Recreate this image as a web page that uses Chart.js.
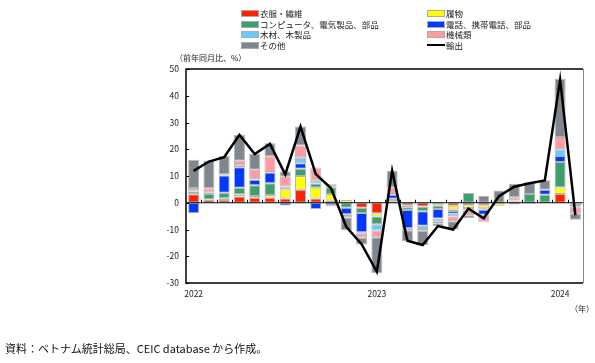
<!DOCTYPE html>
<html lang="ja">
<head>
<meta charset="UTF-8">
<title>ベトナムの品目別輸出</title>
<script src="https://cdn.jsdelivr.net/npm/chart.js"></script>
<style>
  body { margin: 0; background: #fff; font-family: "Noto Sans CJK JP", "Noto Sans", sans-serif; }
  #page { position: relative; width: 595px; height: 363px; overflow: hidden; }
  #chart { position: absolute; left: 0; top: 0; }
  .txt { position: absolute; white-space: nowrap; color: #222; }
  .leg { position: absolute; font-size: 8.5px; line-height: 10px; white-space: nowrap; color: #222; }
  .sw { position: absolute; left: 0; top: 2px; width: 16px; height: 5px; border: 1px solid #aaa; }
  .ln { position: absolute; left: 0; top: 4px; width: 18px; height: 2px; background: #000; }
  .leg span.t { position: absolute; left: 19px; top: 0; }
</style>
</head>
<body>
<div id="page">
  <canvas id="chart" width="595" height="363"></canvas>
  <div id="legend"></div>
  <div class="txt" style="left:175px; top:52px; font-size:8px;">（前年同月比、%）</div>
  <div class="txt" style="left:570px; top:303px; font-size:8px;">（年）</div>
  <div class="txt" style="left:5px; top:340px; font-size:11px; color:#111;">資料：ベトナム統計総局、CEIC database から作成。</div>
</div>
<script>
  // 2022年1月〜2024年2月
  const months = ['2022-01','2022-02','2022-03','2022-04','2022-05','2022-06','2022-07','2022-08','2022-09','2022-10','2022-11','2022-12',
                  '2023-01','2023-02','2023-03','2023-04','2023-05','2023-06','2023-07','2023-08','2023-09','2023-10','2023-11','2023-12',
                  '2024-01','2024-02'];
  const tickLabels = ['2022','','','','','','','','','','','','2023','','','','','','','','','','','','2024',''];

  // 寄与度（%ポイント）
  const apparel   = [3.2, 1.0, 1.0, 2.3, 1.9, 1.9, 1.6, 4.9, 1.6, 0.8, 0, -1.9, -3.9, 0.5, -1.0, -1.4, -0.2, -1.1, -0.9, -0.9, 0, 0, 0, 0, 3.3, -0.3];
  const footwear  = [0, 0.2, 0.7, 0.8, 0.6, 1.0, 3.4, 5.1, 4.0, 2.5, 1.0, 0, -1.2, 0.2, -0.7, -0.2, -0.8, -1.4, -1.1, -1.2, -1.1, -0.7, 0, 0, 2.4, -0.2];
  const computers = [1.0, 2.1, 2.0, 2.5, 4.0, 4.4, 0.8, 2.7, 1.6, 2.5, -1.9, -1.9, -2.8, 0.8, -1.0, -1.6, -1.3, -0.6, 3.6, -0.5, 0, 0.5, 3.3, 3.0, 9.5, -0.3];
  const phones    = [-3.9, 0.3, 6.5, 7.7, 2.1, 4.0, -1.0, 2.1, -2.3, -0.9, -2.4, -7.2, -0.3, 1.5, -6.8, -5.4, -3.6, -1.0, -0.4, -1.9, 0, 0, -0.3, 1.9, 2.3, -0.7];
  const wood      = [0.3, 0.2, 0.2, 0.7, 0.2, 0.2, 0.3, 2.0, 1.2, 0.2, -0.3, -0.6, -2.2, 0.3, -0.8, -1.2, -1.0, -1.0, -0.6, -0.4, 0, 0.3, 0, 0, 2.5, -0.4];
  const machinery = [1.0, 1.6, 0.2, 1.7, 3.5, 5.9, 3.6, 4.6, 4.5, 0.9, -0.9, -1.5, -2.5, 2.5, 0, -0.7, -0.8, -1.8, -1.7, -2.2, 0, 1.3, 0, 0, 4.6, -2.2];
  const others    = [10.6, 10.4, 7.0, 9.7, 5.9, 4.8, 2.0, 7.1, 0.3, -0.5, -4.8, -2.5, -13.5, 6.2, -4.1, -5.3, -1.1, -3.1, -1.0, 2.5, 4.6, 5.0, 4.4, 3.5, 21.8, -2.3];
  // 輸出の伸び率
  const exportsTotal = [11.9, 15.4, 17.0, 25.4, 18.2, 22.0, 10.6, 28.5, 10.7, 5.4, -9.0, -15.5, -25.8, 12.0, -14.2, -15.8, -8.7, -10.0, -2.2, -5.8, 2.5, 6.0, 7.3, 8.3, 46.0, -4.6];

  const barSeries = [
    { label: '衣服・繊維', data: apparel, color: '#ff2200' },
    { label: '履物', data: footwear, color: '#ffff00' },
    { label: 'コンピュータ、電気製品、部品', data: computers, color: '#3c9f6c' },
    { label: '電話、携帯電話、部品', data: phones, color: '#0038ff' },
    { label: '木材、木製品', data: wood, color: '#66ccff' },
    { label: '機械類', data: machinery, color: '#ff9a9e' },
    { label: 'その他', data: others, color: '#7f868e' }
  ];

  const datasets = barSeries.map(s => ({
    type: 'bar',
    label: s.label,
    data: s.data,
    backgroundColor: s.color,
    borderColor: 'rgba(160,160,160,0.8)',
    borderWidth: 1,
    borderSkipped: false,
    barPercentage: 0.72,
    categoryPercentage: 1,
    order: 1
  }));
  datasets.push({
    type: 'line',
    label: '輸出',
    data: exportsTotal,
    borderColor: '#000',
    borderWidth: 2.5,
    pointRadius: 0,
    tension: 0,
    order: 0
  });

  // 凡例（2列）
  const legendPos = [
    [241, 8], [427, 8],
    [241, 18.5], [427, 18.5],
    [241, 29], [427, 29],
    [241, 39.5], [427, 39.5]
  ];
  const legendBox = document.getElementById('legend');
  datasets.forEach((ds, i) => {
    const el = document.createElement('div');
    el.className = 'leg';
    el.style.left = legendPos[i][0] + 'px';
    el.style.top = legendPos[i][1] + 'px';
    const mark = ds.type === 'line'
      ? '<div class="ln"></div>'
      : '<div class="sw" style="background:' + ds.backgroundColor + '"></div>';
    el.innerHTML = mark + '<span class="t">' + ds.label + '</span>';
    legendBox.appendChild(el);
  });

  const framePlugin = {
    id: 'frame',
    afterDatasetsDraw(chart) {
      const { ctx, chartArea: a, scales } = chart;
      const y0 = scales.y.getPixelForValue(0);
      ctx.save();
      // ゼロ線
      ctx.strokeStyle = '#000';
      ctx.lineWidth = 1.2;
      ctx.beginPath();
      ctx.moveTo(a.left, y0);
      ctx.lineTo(a.right, y0);
      ctx.stroke();
      // ゼロ線上の目盛り
      ctx.lineWidth = 1;
      const n = months.length;
      const step = (a.right - a.left) / n;
      for (let i = 1; i < n; i++) {
        const x = Math.round(a.left + i * step) + 0.5;
        ctx.beginPath();
        ctx.moveTo(x, y0);
        ctx.lineTo(x, y0 - 3);
        ctx.stroke();
      }
      // y軸の内向き目盛り
      for (let v = -30; v <= 50; v += 10) {
        const y = Math.round(scales.y.getPixelForValue(v)) + 0.5;
        ctx.beginPath();
        ctx.moveTo(a.left, y);
        ctx.lineTo(a.left + 3, y);
        ctx.stroke();
      }
      // 枠
      ctx.lineWidth = 1.5;
      ctx.beginPath();
      ctx.moveTo(a.right, a.top);
      ctx.lineTo(a.left, a.top);
      ctx.lineTo(a.left, a.bottom);
      ctx.lineTo(a.right, a.bottom);
      ctx.stroke();
      ctx.strokeStyle = '#888';
      ctx.lineWidth = 1;
      ctx.beginPath();
      ctx.moveTo(a.right + 0.5, a.top);
      ctx.lineTo(a.right + 0.5, a.bottom);
      ctx.stroke();
      ctx.restore();
    }
  };

  const ctx = document.getElementById('chart').getContext('2d');
  new Chart(ctx, {
    data: { labels: months, datasets: datasets },
    plugins: [framePlugin],
    options: {
      responsive: false,
      animation: false,
      layout: { padding: { left: 150, right: 12, top: 69, bottom: 60 } },
      plugins: {
        legend: { display: false },
        tooltip: { enabled: false }
      },
      scales: {
        x: {
          stacked: true,
          offset: true,
          grid: { display: false, drawTicks: false },
          border: { display: false },
          ticks: {
            autoSkip: false,
            maxRotation: 0,
            padding: 6,
            color: '#222',
            font: { family: '"Noto Sans CJK JP", sans-serif', size: 8.5 },
            callback: (v, i) => tickLabels[i]
          },
          afterFit: s => { s.height = 20; }
        },
        y: {
          stacked: true,
          min: -30,
          max: 50,
          grid: { display: false, drawTicks: false },
          border: { display: false },
          ticks: {
            stepSize: 10,
            padding: 7,
            color: '#222',
            font: { family: '"Noto Sans CJK JP", sans-serif', size: 8.5 }
          },
          afterFit: s => { s.width = 36; }
        }
      }
    }
  });
</script>
</body>
</html>
